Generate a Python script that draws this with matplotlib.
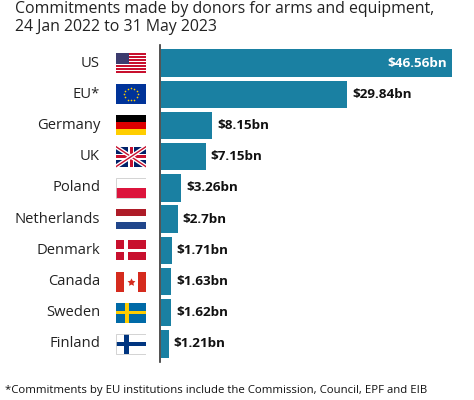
import matplotlib
matplotlib.use("Agg")
import matplotlib.pyplot as plt
from matplotlib.patches import Rectangle
from matplotlib.lines import Line2D
import numpy as np

countries = ["US", "EU*", "Germany", "UK", "Poland", "Netherlands",
             "Denmark", "Canada", "Sweden", "Finland"]
values = [46.56, 29.84, 8.15, 7.15, 3.26, 2.7, 1.71, 1.63, 1.62, 1.21]
value_labels = ["$46.56bn", "$29.84bn", "$8.15bn", "$7.15bn", "$3.26bn",
                "$2.7bn", "$1.71bn", "$1.63bn", "$1.62bn", "$1.21bn"]
flags = ["us", "eu", "de", "uk", "pl", "nl", "dk", "ca", "se", "fi"]

title = "Commitments made by donors for arms and equipment,\n24 Jan 2022 to 31 May 2023"
footnote = "*Commitments by EU institutions include the Commission, Council, EPF and EIB"

FONT = "Open Sans"
BAR = "#1a80a2"
W, H = 474, 400
fig = plt.figure(figsize=(W / 100, H / 100), dpi=100)
fig.patch.set_facecolor("white")

def px(x0, y0, x1, y1):
    # pixel box (top-left origin) -> figure fraction [l, b, w, h]
    return [x0 / W, 1 - y1 / H, (x1 - x0) / W, (y1 - y0) / H]

top, bot = 47.4, 359.6
ax = fig.add_axes(px(160, top, 452, bot))
n = len(countries)
y = np.arange(n)
ax.barh(y, values, height=0.875, color=BAR, left=0.15)
ax.set_ylim(n - 0.5, -0.5)
ax.set_xlim(0, max(values) + 0.15)
for s in ["top", "right", "bottom"]:
    ax.spines[s].set_visible(False)
ax.spines["left"].set_color("#333333")
ax.spines["left"].set_linewidth(1.2)
ax.spines["left"].set_bounds(n - 0.5 + 0.08, -0.5 - 0.08)
ax.set_xticks([])
ax.set_yticks([])

for i, (v, lab) in enumerate(zip(values, value_labels)):
    if i == 0:
        ax.text(v + 0.15 - 0.8, i, lab, ha="right", va="center", color="white",
                fontsize=9.7, fontweight="bold", family=FONT)
    else:
        ax.text(v + 0.15 + 0.8, i, lab, ha="left", va="center", color="#111111",
                fontsize=9.7, fontweight="bold", family=FONT, clip_on=False)

# flags axis
fa = fig.add_axes(px(116, top, 146, bot), sharey=ax)
fa.set_xlim(0, 1)
fa.axis("off")
fh = 0.32

def rect(x0, y0, w, h, c, **kw):
    fa.add_patch(Rectangle((x0, y0), w, h, facecolor=c, edgecolor="none", **kw))

for i, f in enumerate(flags):
    t, b = i - fh, i + fh  # top (smaller y) and bottom
    hh = b - t
    if f == "us":
        for k in range(13):
            rect(0, t + k * hh / 13, 1, hh / 13, "#c8102e" if k % 2 == 0 else "white")
        rect(0, t, 0.42, hh * 7 / 13, "#3c3b6e")
    elif f == "eu":
        rect(0, t, 1, hh, "#003399")
        for k in range(12):
            a = 2 * np.pi * k / 12
            fa.plot(0.5 + 0.22 * np.cos(a), i + 0.2 * np.sin(a), marker="o",
                    ms=1.2, color="#ffcc00", mec="none")
    elif f == "de":
        for k, c in enumerate(["#000000", "#dd0000", "#ffce00"]):
            rect(0, t + k * hh / 3, 1, hh / 3, c)
    elif f == "uk":
        rect(0, t, 1, hh, "#012169")
        for (xa, ya, xb, yb) in [(0, t, 1, b), (0, b, 1, t)]:
            fa.add_line(Line2D([xa, xb], [ya, yb], color="white", lw=3.0))
            fa.add_line(Line2D([xa, xb], [ya, yb], color="#c8102e", lw=1.0))
        rect(0.41, t, 0.18, hh, "white")
        rect(0, i - 0.1, 1, 0.2, "white")
        rect(0.45, t, 0.10, hh, "#c8102e")
        rect(0, i - 0.055, 1, 0.11, "#c8102e")
    elif f == "pl":
        rect(0, t, 1, hh / 2, "white")
        rect(0, i, 1, hh / 2, "#dc143c")
        fa.add_patch(Rectangle((0, t), 1, hh, facecolor="none", edgecolor="#cccccc", lw=0.6))
    elif f == "nl":
        for k, c in enumerate(["#ae1c28", "white", "#21468b"]):
            rect(0, t + k * hh / 3, 1, hh / 3, c)
    elif f == "dk":
        rect(0, t, 1, hh, "#c8102e")
        rect(0.28, t, 0.12, hh, "white")
        rect(0, i - 0.045, 1, 0.09, "white")
    elif f == "ca":
        rect(0, t, 1, hh, "white")
        rect(0, t, 0.27, hh, "#d52b1e")
        rect(0.73, t, 0.27, hh, "#d52b1e")
        fa.plot(0.5, i, marker=(5, 1, 0), ms=6, color="#d52b1e", mec="none")
    elif f == "se":
        rect(0, t, 1, hh, "#006aa7")
        rect(0.3, t, 0.13, hh, "#fecc00")
        rect(0, i - 0.05, 1, 0.10, "#fecc00")
    elif f == "fi":
        rect(0, t, 1, hh, "white")
        rect(0.28, t, 0.15, hh, "#003580")
        rect(0, i - 0.065, 1, 0.13, "#003580")
        fa.add_patch(Rectangle((0, t), 1, hh, facecolor="none", edgecolor="#cccccc", lw=0.6))
    fa.text(-0.53, i, countries[i], ha="right", va="center", fontsize=10.6,
            color="#222222", family=FONT, transform=fa.transData, clip_on=False)

fig.text(15 / W, 1 - 1 / H, title, ha="left", va="top", fontsize=11.4,
         color="#222222", family=FONT, linespacing=1.15)
fig.text(5 / W, 1 - 390 / H, footnote, ha="left", va="center", fontsize=8.2,
         color="#111111", family=FONT)

fig.savefig("out.png", dpi=100, facecolor="white")
